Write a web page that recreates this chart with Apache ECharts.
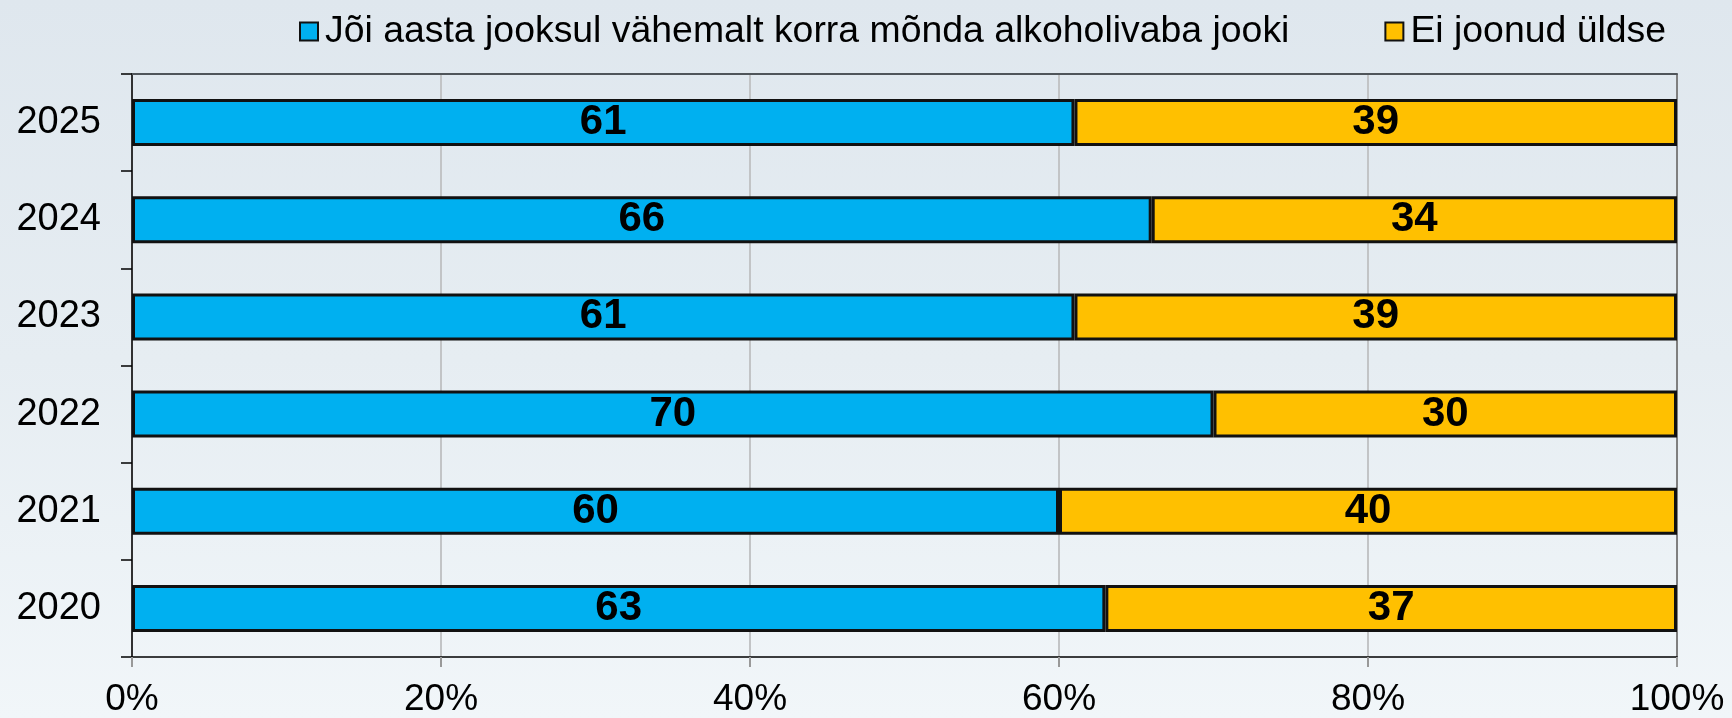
<!DOCTYPE html>
<html>
<head>
<meta charset="utf-8">
<script src="https://cdn.jsdelivr.net/npm/echarts@6/dist/echarts.min.js"></script>
<style>
html,body{margin:0;padding:0;}
#chart{width:1732px;height:718px;background:linear-gradient(to bottom,#dfe7ee 0%,#e6edf2 50%,#f1f6f9 100%);}
</style>
</head>
<body>
<div id="chart"></div>
<script>
const years = ['2020', '2021', '2022', '2023', '2024', '2025'];
const drankValues = [63, 60, 70, 61, 66, 61];
const notValues = [37, 40, 30, 39, 34, 39];
const seriesNames = ['Jõi aasta jooksul vähemalt korra mõnda alkoholivaba jooki', 'Ei joonud üldse'];
const xTicks = [0, 20, 40, 60, 80, 100];

const chart = echarts.init(document.getElementById('chart'), null, {renderer: 'canvas'});
const font = '"Liberation Sans", Arial, sans-serif';
const labelStyle = {
  show: true, position: 'inside', color: '#000', fontFamily: font,
  fontWeight: 'bold', fontSize: 42
};
chart.setOption({
  backgroundColor: 'transparent',
  animation: false,
  legend: {
    top: 8, left: 294,
    itemWidth: 18, itemHeight: 18, itemGap: 95,
    icon: 'rect',
    textStyle: {fontFamily: font, fontSize: 37.4, color: '#000', padding: [0, 0, 0, 2]},
    data: seriesNames
  },
  grid: {left: 132, right: 55, top: 74, bottom: 60, containLabel: false},
  xAxis: [{
    type: 'value', min: 0, max: 100, interval: 20,
    axisLine: {show: true, lineStyle: {color: '#000', width: 1.5}},
    axisTick: {show: true, length: 10, lineStyle: {color: '#999', width: 2}},
    axisLabel: {formatter: v => xTicks.includes(v) ? v + '%' : '', fontFamily: font, fontSize: 37, color: '#000', margin: 24},
    splitLine: {show: true, lineStyle: {color: ['#c2c4c6', '#c2c4c6', '#c2c4c6', '#c2c4c6', '#c2c4c6', '#7f7f7f'], width: 2}}
  }, {
    type: 'value', position: 'top', min: 0, max: 100,
    axisLine: {show: true, lineStyle: {color: '#4f555a', width: 2}},
    axisTick: {show: false}, axisLabel: {show: false}, splitLine: {show: false}
  }],
  yAxis: {
    type: 'category', data: years,
    axisLine: {show: true, lineStyle: {color: '#000', width: 1.5}},
    axisTick: {show: true, length: 11, lineStyle: {color: '#000', width: 1.5}},
    axisLabel: {fontFamily: font, fontSize: 38, color: '#000', margin: 31}
  },
  series: [{
    name: seriesNames[0], type: 'bar', stack: 'total', data: drankValues,
    barWidth: 47,
    itemStyle: {color: '#00B0F0', borderColor: '#111', borderWidth: 3},
    label: labelStyle
  }, {
    name: seriesNames[1], type: 'bar', stack: 'total', data: notValues,
    barWidth: 47,
    itemStyle: {color: '#FFC000', borderColor: '#111', borderWidth: 3},
    label: labelStyle
  }]
});
</script>
</body>
</html>
